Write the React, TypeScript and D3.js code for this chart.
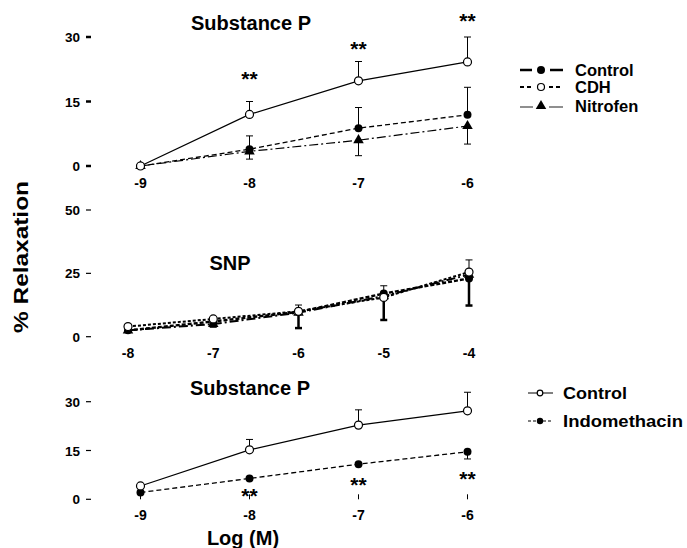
import * as d3 from "d3";

// x categories (log molar concentration)
const doseSP = [-9, -8, -7, -6];
const doseSNP = [-8, -7, -6, -5, -4];

// y tick values
const ticksSP = [0, 15, 30];
const ticksSNP = [0, 25, 50];

// Top panel: Substance P
const spCdh = [0, 12, 19.8, 24.2];
const spCdhErr = [0, 3, 4.5, 5.8];
const spControl = [0, 3.9, 8.8, 11.9];
const spControlErr = [0, 3.1, 4.8, 6.4];
const spNitrofen = [0, 3.4, 6.0, 9.3];
const spNitrofenErr = [0, 1.8, 3.6, 4.2];
const spStars = [null, 18.6, 25.6, 32.1];

// Middle panel: SNP
const snpControl = [2.5, 6, 9.8, 17, 23];
const snpControlErr = [0, 2, 6.4, 10.4, 10.7];
const snpCdh = [4, 7, 10, 15.5, 25.5];
const snpCdhErr = [0.5, 0.5, 2.5, 4.6, 4.8];
const snpNitrofen = [2.5, 5, 9.5, 16, 24.5];
const snpNitrofenErr = [0, 0, 0, 0, 0];

// Bottom panel: Substance P +/- indomethacin
const ctrlC = [4.1, 15.2, 22.8, 27.2];
const ctrlCErr = [0, 3.2, 4.7, 5.7];
const indo = [2.1, 6.4, 10.8, 14.6];
const indoErr = [0, 0, 0, 2.2];
const indoStars = [null, -1.2, 2.1, 4.0];

const FONT = "Arial, 'Liberation Sans', Helvetica, sans-serif";

type Series = {
  values: number[];
  err: number[];
  errDir: 1 | -1;
  marker: "open" | "filled" | "triangle";
  dash: string;
  width: number;
  capWidth?: number;
};

type Panel = {
  title: string;
  titleX: number;
  titleY: number;
  doses: number[];
  ticks: number[];
  x: d3.ScaleLinear<number, number>;
  y: d3.ScaleLinear<number, number>;
  series: Series[];
  stars?: (number | null)[];
  tickW: number;
  labelY: number;
  xTicks?: boolean;
};

const panels: Panel[] = [
  {
    title: "Substance P",
    titleX: 251,
    titleY: 30,
    doses: doseSP,
    ticks: ticksSP,
    x: d3.scaleLinear().domain([-9, -6]).range([140.5, 467.5]),
    y: d3.scaleLinear().domain([0, 30]).range([166, 37]),
    series: [
      { values: spNitrofen, err: spNitrofenErr, errDir: -1, marker: "triangle", dash: "9,3,2,3", width: 1.2 },
      { values: spControl, err: spControlErr, errDir: 1, marker: "filled", dash: "5,3", width: 1.3 },
      { values: spCdh, err: spCdhErr, errDir: 1, marker: "open", dash: "", width: 1.2 },
    ],
    stars: spStars,
    tickW: 2.5,
    labelY: 188,
  },
  {
    title: "SNP",
    titleX: 230,
    titleY: 270,
    doses: doseSNP,
    ticks: ticksSNP,
    x: d3.scaleLinear().domain([-8, -4]).range([128, 469]),
    y: d3.scaleLinear().domain([0, 50]).range([336.7, 210]),
    series: [
      { values: snpNitrofen, err: snpNitrofenErr, errDir: -1, marker: "triangle", dash: "9,3,2,3", width: 2 },
      { values: snpControl, err: snpControlErr, errDir: -1, marker: "filled", dash: "4,2", width: 2.4, capWidth: 2.5 },
      { values: snpCdh, err: snpCdhErr, errDir: 1, marker: "open", dash: "3,2", width: 2 },
    ],
    tickW: 1.2,
    labelY: 358,
  },
  {
    title: "Substance P",
    titleX: 250,
    titleY: 395,
    doses: doseSP,
    ticks: ticksSP,
    x: d3.scaleLinear().domain([-9, -6]).range([140.5, 467.5]),
    y: d3.scaleLinear().domain([0, 30]).range([499.3, 401.7]),
    series: [
      { values: indo, err: indoErr, errDir: -1, marker: "filled", dash: "5,3", width: 1.3 },
      { values: ctrlC, err: ctrlCErr, errDir: 1, marker: "open", dash: "", width: 1.2 },
    ],
    stars: indoStars,
    tickW: 1.2,
    labelY: 520,
    xTicks: true,
  },
];

const triangle = d3.symbol().type(d3.symbolTriangle).size(48)() as string;

function Marker({ kind, cx, cy, r = 4 }: { kind: string; cx: number; cy: number; r?: number }) {
  if (kind === "triangle") return <path d={triangle} transform={`translate(${cx},${cy})`} fill="#000" />;
  if (kind === "open") return <circle cx={cx} cy={cy} r={r} fill="#fff" stroke="#000" strokeWidth={1.2} />;
  return <circle cx={cx} cy={cy} r={r} fill="#000" />;
}

function PanelView({ p }: { p: Panel }) {
  const line = d3
    .line<number>()
    .x((_, i) => p.x(p.doses[i]))
    .y((d) => p.y(d));
  return (
    <g>
      <text x={p.titleX} y={p.titleY} textAnchor="middle" fontSize={20} fontWeight="bold" fontFamily={FONT}>
        {p.title}
      </text>
      {p.ticks.map((t) => (
        <g key={t}>
          <line x1={86} x2={91} y1={p.y(t)} y2={p.y(t)} stroke="#000" strokeWidth={p.tickW} />
          <text x={80} y={p.y(t) + 5} textAnchor="end" fontSize={13.5} fontWeight="bold" fontFamily={FONT}>
            {t}
          </text>
        </g>
      ))}
      {p.doses.map((d) => (
        <g key={d}>
          {p.xTicks && <line x1={p.x(d)} x2={p.x(d)} y1={p.y(0) - 5} y2={p.y(0)} stroke="#000" strokeWidth={1} />}
          <text x={p.x(d)} y={p.labelY} textAnchor="middle" fontSize={14} fontWeight="bold" fontFamily={FONT}>
            {d}
          </text>
        </g>
      ))}
      {p.series.map((s, si) => (
        <g key={si}>
          <path d={line(s.values) ?? ""} fill="none" stroke="#000" strokeWidth={s.width} strokeDasharray={s.dash} />
          {s.values.map((v, i) =>
            s.err[i] > 0 ? (
              <g key={i}>
                <line
                  x1={p.x(p.doses[i])}
                  x2={p.x(p.doses[i])}
                  y1={p.y(v)}
                  y2={p.y(v + s.errDir * s.err[i])}
                  stroke="#000"
                  strokeWidth={s.capWidth ?? 1}
                />
                <line
                  x1={p.x(p.doses[i]) - 3.5}
                  x2={p.x(p.doses[i]) + 3.5}
                  y1={p.y(v + s.errDir * s.err[i])}
                  y2={p.y(v + s.errDir * s.err[i])}
                  stroke="#000"
                  strokeWidth={s.capWidth ?? 1}
                />
              </g>
            ) : null
          )}
          {s.values.map((v, i) => (
            <Marker key={"m" + i} kind={s.marker} cx={p.x(p.doses[i])} cy={p.y(v)} />
          ))}
        </g>
      ))}
      {p.stars &&
        p.stars.map((st, i) =>
          st === null ? null : (
            <text
              key={"s" + i}
              x={p.x(p.doses[i])}
              y={p.y(st)}
              textAnchor="middle"
              fontSize={21}
              fontWeight="bold"
              fontFamily={FONT}
            >
              **
            </text>
          )
        )}
    </g>
  );
}

export default function App() {
  return (
    <svg
      width={687}
      height={548}
      style={{ position: "absolute", left: 0, top: 0, background: "#fff" }}
      fontFamily={FONT}
    >
      {panels.map((p, i) => (
        <PanelView key={i} p={p} />
      ))}

      {/* legend, top panel */}
      <g>
        <line x1={520} x2={532} y1={70} y2={70} stroke="#000" strokeWidth={2.5} />
        <line x1={550} x2={563} y1={70} y2={70} stroke="#000" strokeWidth={2.5} />
        <Marker kind="filled" cx={541} cy={70} />
        <text x={575} y={76} fontSize={16.5} fontWeight="bold">Control</text>

        <line x1={520} x2={533} y1={87} y2={87} stroke="#000" strokeWidth={2} strokeDasharray="4,3" />
        <line x1={549} x2={563} y1={87} y2={87} stroke="#000" strokeWidth={2} strokeDasharray="4,3" />
        <Marker kind="open" cx={541} cy={87} r={3.5} />
        <text x={575} y={93} fontSize={16.5} fontWeight="bold">CDH</text>

        <line x1={520} x2={533} y1={107} y2={107} stroke="#444" strokeWidth={1.2} />
        <line x1={549} x2={563} y1={107} y2={107} stroke="#444" strokeWidth={1.2} />
        <Marker kind="triangle" cx={541} cy={106} />
        <text x={575} y={112} fontSize={16.5} fontWeight="bold">Nitrofen</text>
      </g>

      {/* legend, bottom panel */}
      <g>
        <line x1={528} x2={553} y1={393} y2={393} stroke="#000" strokeWidth={1} />
        <Marker kind="open" cx={540} cy={393} r={2.8} />
        <text x={563} y={399} fontSize={17} fontWeight="bold" textLength={64} lengthAdjust="spacingAndGlyphs">
          Control
        </text>

        <line x1={528} x2={553} y1={421} y2={421} stroke="#000" strokeWidth={1.2} strokeDasharray="3,2" />
        <Marker kind="filled" cx={540} cy={421} r={3.2} />
        <text x={563} y={427} fontSize={17} fontWeight="bold" textLength={120} lengthAdjust="spacingAndGlyphs">
          Indomethacin
        </text>
      </g>

      <text
        transform="translate(28,257) rotate(-90)"
        textAnchor="middle"
        fontSize={21}
        fontWeight="bold"
        textLength={152}
        lengthAdjust="spacingAndGlyphs"
      >
        % Relaxation
      </text>
      <text x={243} y={545} textAnchor="middle" fontSize={20} fontWeight="bold">
        Log (M)
      </text>
    </svg>
  );
}
